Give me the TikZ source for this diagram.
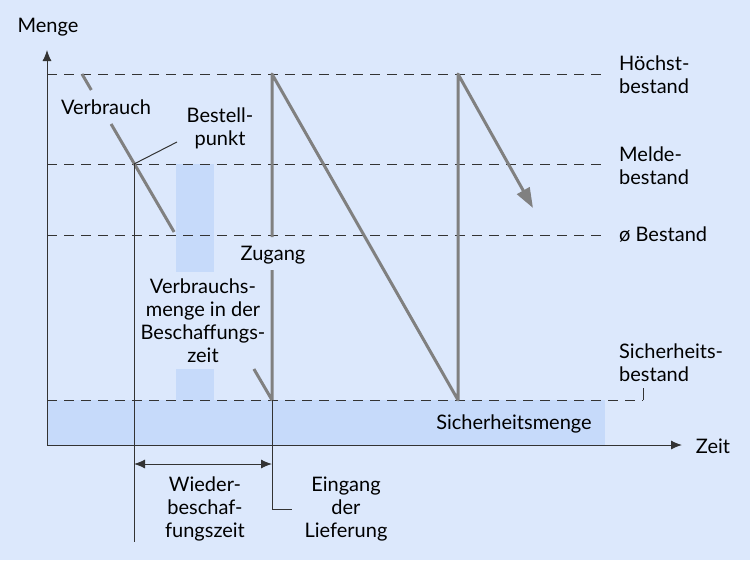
\documentclass[tikz,border=0pt]{standalone}
\usepackage{fontspec}
\setmainfont{Lato}
\usetikzlibrary{arrows.meta}
\definecolor{bg}{HTML}{DCE8FC}
\definecolor{fillb}{HTML}{C6DAFA}
\definecolor{sawc}{HTML}{808080}
\definecolor{ink}{HTML}{333333}
\begin{document}
\begin{tikzpicture}[x=1pt,y=-1pt,
  lbl/.style={font=\fontsize{20}{23}\selectfont, inner sep=0pt, align=center, text=black},
  rlbl/.style={lbl, anchor=west, align=left},
  dline/.style={draw=ink, dash pattern=on 10pt off 7pt, line width=1pt},
  sawline/.style={draw=sawc, line width=3pt, line join=round},
  thinline/.style={draw=ink, line width=1pt}]
\fill[bg] (0,0) rectangle (750,560);
\useasboundingbox (0,0) rectangle (750,560);
% fills
\fill[fillb] (47,400) rectangle (605,445);
\fill[fillb] (176,164) rectangle (214,272);
\fill[fillb] (176,369) rectangle (214,400);
% coordinates
\coordinate (h0) at (47,74);   \coordinate (h1) at (605,74);
\coordinate (m0) at (47,164);  \coordinate (m1) at (605,164);
\coordinate (a0) at (47,235);  \coordinate (a1) at (605,235);
\coordinate (s0) at (47,400);  \coordinate (s1) at (643,400); \coordinate (s2) at (643,388);
\coordinate (o) at (47,445); \coordinate (ytop) at (47,50); \coordinate (xend) at (682,445);
% dashed levels
\draw[dline] (h0) -- (h1);
\draw[dline] (m0) -- (m1);
\draw[dline] (a0) -- (a1);
\draw[dline] (s0) -- (s1);
\draw[thinline] (s1) -- (s2);
% axes
\draw[thinline, -{Latex[length=11pt,width=9pt]}] (o) -- (ytop);
\draw[thinline, -{Latex[length=11pt,width=9pt]}] (o) -- (xend);
% sawtooth
\coordinate (p0) at (82,74);
\coordinate (p1) at (91.3,90);
\coordinate (p2) at (111.1,124);
\coordinate (bp) at (134,164);
\coordinate (p3) at (174.1,232);
\coordinate (p4) at (253.9,369);
\coordinate (l0) at (272,400);
\coordinate (l1) at (272,270);
\coordinate (l2) at (272,237);
\coordinate (l3) at (272,74);
\coordinate (r0) at (458,400);
\coordinate (r1) at (458,74);
\coordinate (r2) at (533,208);
\draw[sawline] (p0) -- (p1);
\draw[sawline] (p2) -- (p3);
\draw[sawline] (p4) -- (l0) -- (l1);
\draw[sawline, -{Triangle[length=20pt,width=14pt]}] (l2) -- (l3) -- (r0) -- (r1) -- (r2);
% thin lines
\coordinate (bpl) at (177,142);
\draw[thinline] (bp) -- (bpl);
\coordinate (bpd) at (134,542);
\draw[thinline] (bp) -- (bpd);
\coordinate (ld) at (272,509); \coordinate (le) at (292,509);
\draw[thinline] (l0) -- (ld) -- (le);
\coordinate (w0) at (134,464); \coordinate (w1) at (272,464);
\draw[thinline, {Latex[length=11pt,width=9pt]}-{Latex[length=11pt,width=9pt]}] (w0) -- (w1);
% labels
\node[lbl] (menge) at (48,27) {Menge};
\node[lbl] (verb) at (106,107) {Verbrauch};
\node[lbl] (best) at (220,128) {Bestell-\\punkt};
\node[lbl] (vmenge) at (203,321) {Verbrauchs-\\menge in der\\Beschaffungs-\\zeit};
\node[lbl] (zug) at (273,255) {Zugang};
\node[lbl] (wbz) at (205,509) {Wieder-\\beschaf-\\fungszeit};
\node[lbl] (eing) at (346,509) {Eingang\\der\\Lieferung};
\node[rlbl] (hb) at (619,75) {Höchst-\\bestand};
\node[rlbl] (mb) at (619,166) {Melde-\\bestand};
\node[rlbl] (ab) at (619,235) {ø Bestand};
\node[rlbl] (sb) at (619,363) {Sicherheits-\\bestand};
\node[lbl] (sm) at (514,424) {Sicherheitsmenge};
\node[lbl] (zeit) at (713,446) {Zeit};
\end{tikzpicture}
\end{document}
